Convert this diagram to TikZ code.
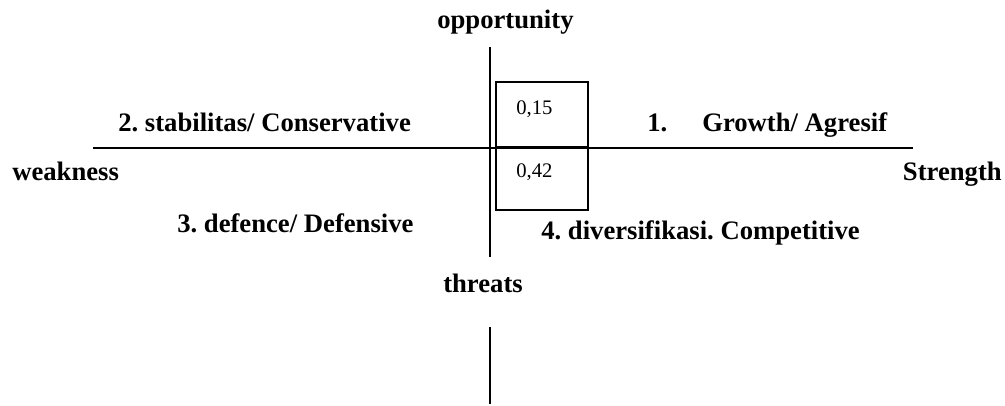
\documentclass[tikz,border=0pt]{standalone}
\usepackage{fontspec}
\setmainfont{Liberation Serif}
\frenchspacing
\begin{document}
\begin{tikzpicture}[x=0.75pt,y=-0.75pt,
  lbl/.style={font=\fontsize{20}{24}\selectfont\bfseries, inner sep=0pt, anchor=base west},
  num/.style={font=\fontsize{15.5}{18}\selectfont, inner sep=0pt, anchor=base west},
  axis/.style={line width=1.5pt},
  quad/.style={draw, line width=1.5pt}]
\useasboundingbox (0,0) rectangle (1005,405);
% axes
\coordinate (vtop) at (490,47);
\coordinate (vbot) at (490,257);
\coordinate (v2top) at (490,327);
\coordinate (v2bot) at (490,404);
\coordinate (hl) at (93,147.5);
\coordinate (hr) at (913,147.5);
\draw[axis] (hl) -- (hr);
\draw[axis] (vtop) -- (vbot);
\draw[axis] (v2top) -- (v2bot);
% boxes
\draw[quad] (496,82) rectangle (588,147);
\draw[quad] (496,147) rectangle (588,210);
\node[num] (n15) at (516,114) {0,15};
\node[num] (n42) at (516,177) {0,42};
% labels
\node[lbl] (opp) at (437,28) {opportunity};
\node[lbl] (q2) at (118,131) {2. stabilitas/ Conservative};
\node[lbl] (q1n) at (647,131) {1.};
\node[lbl] (q1) at (702,131) {Growth/ Agresif};
\node[lbl] (weak) at (12,180) {weakness};
\node[lbl, anchor=base east] (str) at (1002,180) {Strength};
\node[lbl] (q3) at (177,232) {3. defence/ Defensive};
\node[lbl] (q4) at (541,239) {4. diversifikasi. Competitive};
\node[lbl] (thr) at (443,292) {threats};
\end{tikzpicture}
\end{document}
